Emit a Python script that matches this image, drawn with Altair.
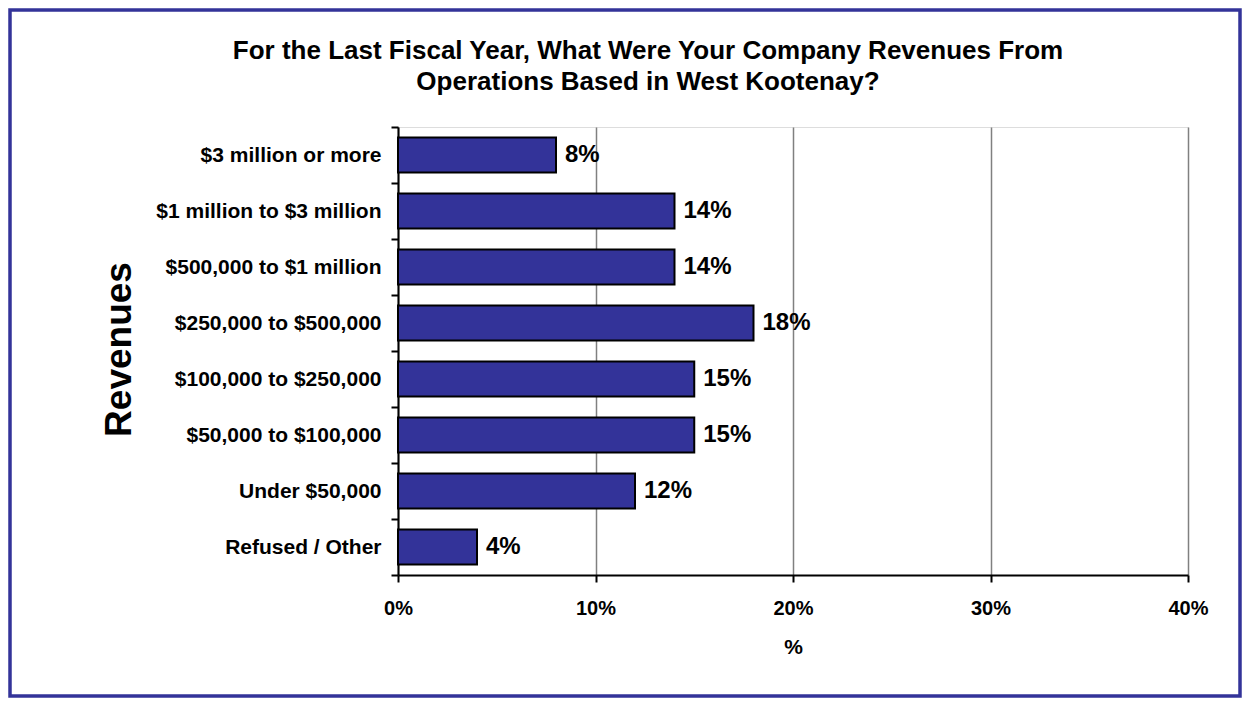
import altair as alt
import pandas as pd

categories = ["$3 million or more", "$1 million to $3 million", "$500,000 to $1 million",
              "$250,000 to $500,000", "$100,000 to $250,000", "$50,000 to $100,000",
              "Under $50,000", "Refused / Other"]
values = [8, 14, 14, 18, 15, 15, 12, 4]
x_ticks = [0, 10, 20, 30, 40]

df = pd.DataFrame({"cat": categories, "val": values})
df["label"] = [f"{v}%" for v in values]

FONT = "Liberation Sans"
NAVY = "#333399"

y_enc = alt.Y("cat:N", sort=categories,
              scale=alt.Scale(paddingInner=0, paddingOuter=0),
              axis=alt.Axis(title="Revenues", titleFontSize=37, titleFont=FONT,
                            titleFontWeight="bold", titleColor="black",
                            titleAngle=270, titleX=-279, titleY=222,
                            titleAlign="center", titleBaseline="middle",
                            labelFont=FONT, labelFontSize=21, labelFontWeight="bold",
                            labelColor="black", labelPadding=10, labelLimit=400,
                            tickSize=7, tickColor="black", tickWidth=2,
                            tickBand="extent",
                            domainColor="black", domainWidth=2, grid=False))
x_enc = alt.X("val:Q", scale=alt.Scale(domain=[0, 40], nice=False),
              axis=alt.Axis(title="%", values=x_ticks, labelExpr="datum.value + '%'",
                            labelFlush=False,
                            titleFontSize=21, titleFont=FONT, titleFontWeight="bold",
                            titleColor="black", titleY=72, titleBaseline="middle",
                            labelFont=FONT, labelFontSize=20, labelFontWeight="bold",
                            labelColor="black", labelPadding=16,
                            tickSize=7, tickColor="black", tickWidth=2,
                            domainColor="black", domainWidth=2,
                            grid=True, gridColor="#808080", gridWidth=1.5))

bars = alt.Chart(df).mark_bar(size=35, fill=NAVY, stroke="black", strokeWidth=2).encode(
    x=x_enc, y=y_enc)
texts = alt.Chart(df).mark_text(align="left", baseline="middle", dx=9, font=FONT,
                                fontSize=24, fontWeight="bold", color="black").encode(
    x="val:Q", y=alt.Y("cat:N", sort=categories), text="label:N")

frame = alt.Chart(pd.DataFrame({"a": [0]})).mark_rect(
    fill=None, stroke=NAVY, strokeWidth=3.5, clip=False).encode(
    x=alt.value(-388), x2=alt.value(842), y=alt.value(-117), y2=alt.value(569))

chart = alt.layer(bars, texts, frame).properties(
    width=790, height=448,
    autosize=alt.AutoSizeParams(type="none"),
    padding={"left": 390, "top": 119, "right": 54, "bottom": 123},
    title=alt.TitleParams(
        text=["For the Last Fiscal Year, What Were Your Company Revenues From",
              "Operations Based in West Kootenay?"],
        font=FONT, fontSize=26, fontWeight="bold", color="black",
        lineHeight=31, anchor="middle", dx=-145, offset=-87),
).configure_view(stroke="#808080", strokeWidth=1.5).configure(background="white")

chart.save("out.html", embed_options={"renderer": "svg", "actions": False})
